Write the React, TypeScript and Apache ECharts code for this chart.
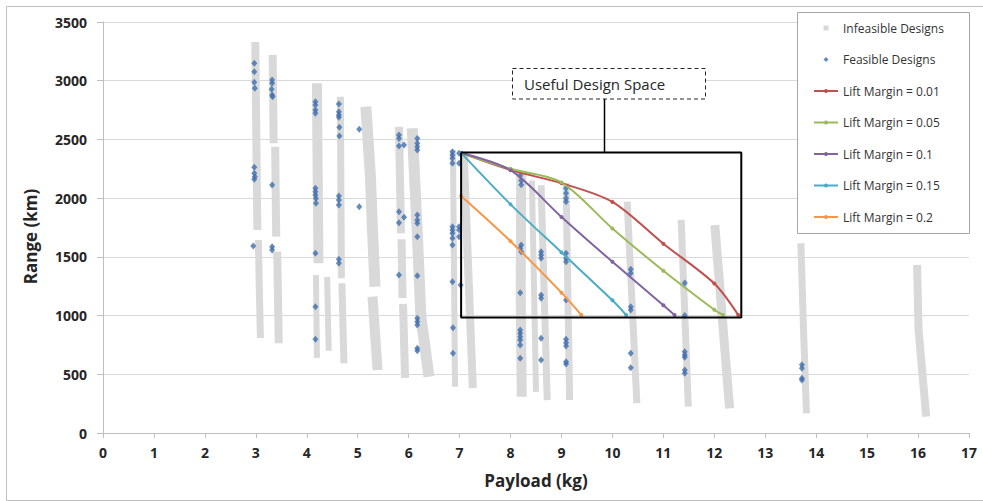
import React, { useEffect, useRef } from "react";
import * as echarts from "echarts";

// ---- Data ----
// Infeasible designs: dense vertical streaks, each given as a polyline of [payload, range]
const INFEASIBLE_BANDS: number[][][] = [
  [[2.99, 3330], [3.0, 2900], [3.01, 2495], [3.03, 1729]],
  [[3.05, 1644], [3.07, 1200], [3.09, 809]],
  [[3.33, 3220], [3.35, 2467]],
  [[3.38, 2438], [3.4, 1672]],
  [[3.42, 1544], [3.45, 764]],
  [[4.2, 2978], [4.21, 2400], [4.23, 1445]],
  [[4.18, 1345], [4.2, 640]],
  [[4.4, 1330], [4.43, 700]],
  [[4.66, 2864], [4.68, 1317]],
  [[4.69, 1275], [4.73, 594]],
  [[5.16, 2779], [5.25, 2183], [5.29, 1729], [5.34, 1246]],
  [[5.29, 1161], [5.39, 536]],
  [[5.81, 2608], [5.85, 1700]],
  [[5.86, 1650], [5.88, 1150]],
  [[5.89, 1100], [5.93, 470]],
  [[6.07, 2595], [6.17, 1700], [6.24, 990], [6.4, 480]],
  [[6.87, 2410], [6.91, 394]],
  [[7.08, 2395], [7.26, 383]],
  [[8.21, 2215], [8.2, 1200], [8.22, 309]],
  [[8.42, 2150], [8.5, 350]],
  [[8.6, 2110], [8.72, 280]],
  [[9.09, 2128], [9.16, 281]],
  [[10.29, 1970], [10.48, 253]],
  [[11.35, 1814], [11.49, 224]],
  [[12.01, 1771], [12.3, 210]],
  [[13.7, 1615], [13.75, 900], [13.81, 168]],
  [[15.98, 1431], [16.01, 877], [16.16, 139]],
];

const FEASIBLE: number[][] = [
  [2.97, 3148], [2.97, 3077], [2.97, 2987], [2.98, 2936], [2.97, 2263], [2.97, 2211], [2.98, 2183], [2.97, 2160], [2.95, 1592],
  [3.32, 3006], [3.32, 2978], [3.31, 2927], [3.32, 2878], [3.33, 2864], [3.32, 2112], [3.32, 1587], [3.32, 1558],
  [4.17, 2821], [4.17, 2793], [4.17, 2751], [4.17, 2722], [4.17, 2084], [4.17, 2055], [4.17, 2027], [4.18, 1998], [4.18, 1956], [4.17, 1530], [4.17, 1075], [4.17, 798],
  [4.63, 2802], [4.63, 2736], [4.63, 2708], [4.63, 2688], [4.64, 2603], [4.64, 2529], [4.63, 2018], [4.63, 1984], [4.63, 1942], [4.63, 1479], [4.63, 1445],
  [5.03, 2586], [5.03, 1927],
  [5.81, 2537], [5.81, 2508], [5.91, 2452], [5.81, 2445], [5.81, 1885], [5.91, 1838], [5.81, 1791], [5.81, 1346],
  [6.17, 2508], [6.17, 2467], [6.17, 2438], [6.17, 2410], [6.17, 1856], [6.17, 1814], [6.17, 1786], [6.17, 1672], [6.17, 1340], [6.17, 977], [6.17, 948], [6.17, 920], [6.17, 721], [6.17, 701],
  [6.86, 2395], [6.86, 2367], [6.86, 2339], [6.86, 2297], [6.99, 2382], [6.99, 2297], [6.86, 1757], [6.86, 1729], [6.86, 1700], [6.86, 1658], [6.86, 1601], [6.99, 1757], [6.99, 1729], [6.99, 1672], [6.86, 1288], [7.02, 1260], [6.87, 897], [6.87, 679],
  [8.19, 2190], [8.21, 2150], [8.21, 2115], [8.21, 1601], [8.19, 1573], [8.21, 1544], [8.19, 1195], [8.19, 877], [8.19, 849], [8.19, 820], [8.19, 792], [8.19, 750], [8.19, 636],
  [8.6, 1544], [8.6, 1516], [8.6, 1488], [8.6, 1175], [8.6, 1147], [8.6, 806], [8.6, 622],
  [9.09, 2084], [9.09, 2041], [9.09, 1999], [9.09, 1970], [9.09, 1530], [9.09, 1488], [9.09, 1459], [9.09, 1133], [9.09, 798], [9.09, 769], [9.09, 741], [9.09, 607], [9.09, 588],
  [10.36, 1394], [10.36, 1360], [10.36, 1076], [10.36, 1047], [10.36, 679], [10.36, 556],
  [11.42, 1278], [11.42, 1000], [11.42, 692], [11.42, 664], [11.42, 645], [11.42, 536], [11.42, 508],
  [13.72, 582], [13.72, 551], [13.72, 466], [13.72, 451],
];

const LIFT_NAMES = [
  "Lift Margin = 0.01",
  "Lift Margin = 0.05",
  "Lift Margin = 0.1",
  "Lift Margin = 0.15",
  "Lift Margin = 0.2",
];
const LM_001: number[][] = [[7.03, 2385], [8, 2239], [9, 2127], [10, 1968], [11, 1612], [12, 1273], [12.47, 1005]];
const LM_005: number[][] = [[7.03, 2385], [8, 2250], [9, 2133], [10, 1742], [11, 1382], [12, 1050], [12.17, 1005]];
const LM_010: number[][] = [[7.03, 2385], [8, 2238], [9, 1840], [10, 1458], [11, 1088], [11.22, 1005]];
const LM_015: number[][] = [[7.03, 2385], [8, 1947], [9, 1538], [10, 1130], [10.27, 1005]];
const LM_020: number[][] = [[7.03, 2018], [8, 1633], [9, 1195], [9.39, 1005]];
const LIFT_SERIES = [LM_001, LM_005, LM_010, LM_015, LM_020];

// Corners of the "Useful Design Space" box (payload, range)
const USEFUL_BOX: number[][] = [[7.03, 2388], [12.53, 2388], [12.53, 983], [7.03, 983], [7.03, 2388]];

// ---- Styles ----
const BAND_WIDTHS = [8, 7, 8, 8, 8, 10, 6, 6, 7, 7, 11, 10, 8, 8, 8, 11, 6, 8, 10, 6, 7, 7, 7, 7, 9, 7, 8];
const LIFT_COLORS = ["#C0504D", "#9BBB59", "#8064A2", "#4BACC6", "#F79646"];
const GREY = "#D9D9D9";
const BLUE = "#3E6EAE";
const FONT = "'Open Sans', sans-serif";
const TEXT = "#262626";

export default function App() {
  const ref = useRef<HTMLDivElement>(null);

  useEffect(() => {
    document.body.style.margin = "0";
    const chart = echarts.init(ref.current!, null, { renderer: "svg" });

    const bandSeries = INFEASIBLE_BANDS.map((b, i) => ({
      type: "line",
      name: "Infeasible Designs",
      data: b,
      symbol: "none",
      silent: true,
      z: 1,
      lineStyle: { color: GREY, width: BAND_WIDTHS[i], cap: "butt", join: "round" },
      itemStyle: { color: GREY },
    }));

    const liftSeries = LIFT_SERIES.map((d, i) => ({
      type: "line",
      name: LIFT_NAMES[i],
      data: d,
      smooth: 0.3,
      symbol: "circle",
      symbolSize: 4,
      showSymbol: true,
      z: 4,
      lineStyle: { color: LIFT_COLORS[i], width: 2 },
      itemStyle: { color: LIFT_COLORS[i] },
    }));

    const option: any = {
      animation: false,
      grid: { left: 103, right: 14, top: 22, bottom: 68 },
      xAxis: {
        type: "value",
        min: 0,
        max: 17,
        interval: 1,
        name: "Payload (kg)",
        nameLocation: "middle",
        nameGap: 39,
        nameTextStyle: { fontFamily: FONT, fontSize: 17, fontWeight: "bold", color: TEXT },
        axisLine: { show: true, lineStyle: { color: "#BFBFBF" } },
        axisTick: { show: true, length: 5, lineStyle: { color: "#BFBFBF" } },
        splitLine: { show: false },
        axisLabel: { margin: 12, fontFamily: FONT, fontSize: 14, fontWeight: "bold", color: TEXT },
      },
      yAxis: {
        type: "value",
        min: 0,
        max: 3500,
        interval: 500,
        name: "Range (km)",
        nameLocation: "middle",
        nameGap: 64,
        nameTextStyle: { fontFamily: FONT, fontSize: 17, fontWeight: "bold", color: TEXT, padding: [0, 18, 0, 0] },
        axisLine: { show: true, lineStyle: { color: "#BFBFBF" } },
        axisTick: { show: true, length: 6, lineStyle: { color: "#BFBFBF" } },
        splitLine: { show: true, lineStyle: { color: GREY } },
        axisLabel: {
          margin: 16,
          fontFamily: FONT,
          fontSize: 14,
          fontWeight: "bold",
          color: TEXT,
          formatter: (v: number) => String(v),
        },
      },
      legend: {
        orient: "vertical",
        left: 813,
        top: 22,
        padding: 0,
        itemWidth: 24,
        itemHeight: 5,
        itemGap: 19.5,
        z: 7,
        selectedMode: false,
        symbolKeepAspect: true,
        textStyle: { fontFamily: FONT, fontSize: 12, color: "#333" },
        data: [
          { name: "Infeasible Designs", icon: "path://M0,0H4V4H0Z", itemStyle: { color: GREY } },
          { name: "Feasible Designs", icon: "path://M2,0L4,2L2,4L0,2Z", itemStyle: { color: BLUE } },
          ...LIFT_NAMES,
        ],
      },
      graphic: [
        {
          type: "rect",
          silent: true,
          z: -10,
          shape: { x: 6.5, y: 6.5, width: 1000, height: 494 },
          style: { fill: "none", stroke: "#BFBFBF", lineWidth: 1 },
        },
        {
          type: "rect",
          silent: true,
          z: 6,
          shape: { x: 797.5, y: 12.5, width: 172, height: 221 },
          style: { fill: "#fff", stroke: "#A6A6A6", lineWidth: 1 },
        },
        {
          type: "line",
          silent: true,
          z: 6,
          shape: { x1: 604.5, y1: 99, x2: 604.5, y2: 152 },
          style: { stroke: "#000", lineWidth: 1.5 },
        },
        {
          type: "rect",
          silent: true,
          z: 6,
          shape: { x: 512.5, y: 68.5, width: 193, height: 30.5 },
          style: { fill: "#fff", stroke: "#262626", lineWidth: 1, lineDash: [4, 3] },
        },
        {
          type: "text",
          silent: true,
          z: 7,
          x: 524,
          y: 84,
          style: {
            text: "Useful Design Space",
            fontFamily: FONT,
            fontSize: 15,
            fill: TEXT,
            verticalAlign: "middle",
            textVerticalAlign: "middle",
          },
        },
      ],
      series: [
        ...bandSeries,
        {
          type: "scatter",
          name: "Feasible Designs",
          data: FEASIBLE,
          symbol: "diamond",
          symbolSize: [6, 7],
          z: 3,
          itemStyle: { color: BLUE },
        },
        {
          type: "line",
          name: "Useful Design Space",
          data: USEFUL_BOX,
          symbol: "none",
          silent: true,
          z: 5,
          lineStyle: { color: "#000", width: 2 },
        },
        ...liftSeries,
      ],
    };

    chart.setOption(option);
    return () => chart.dispose();
  }, []);

  return <div ref={ref} style={{ width: 983, height: 501 }} />;
}
